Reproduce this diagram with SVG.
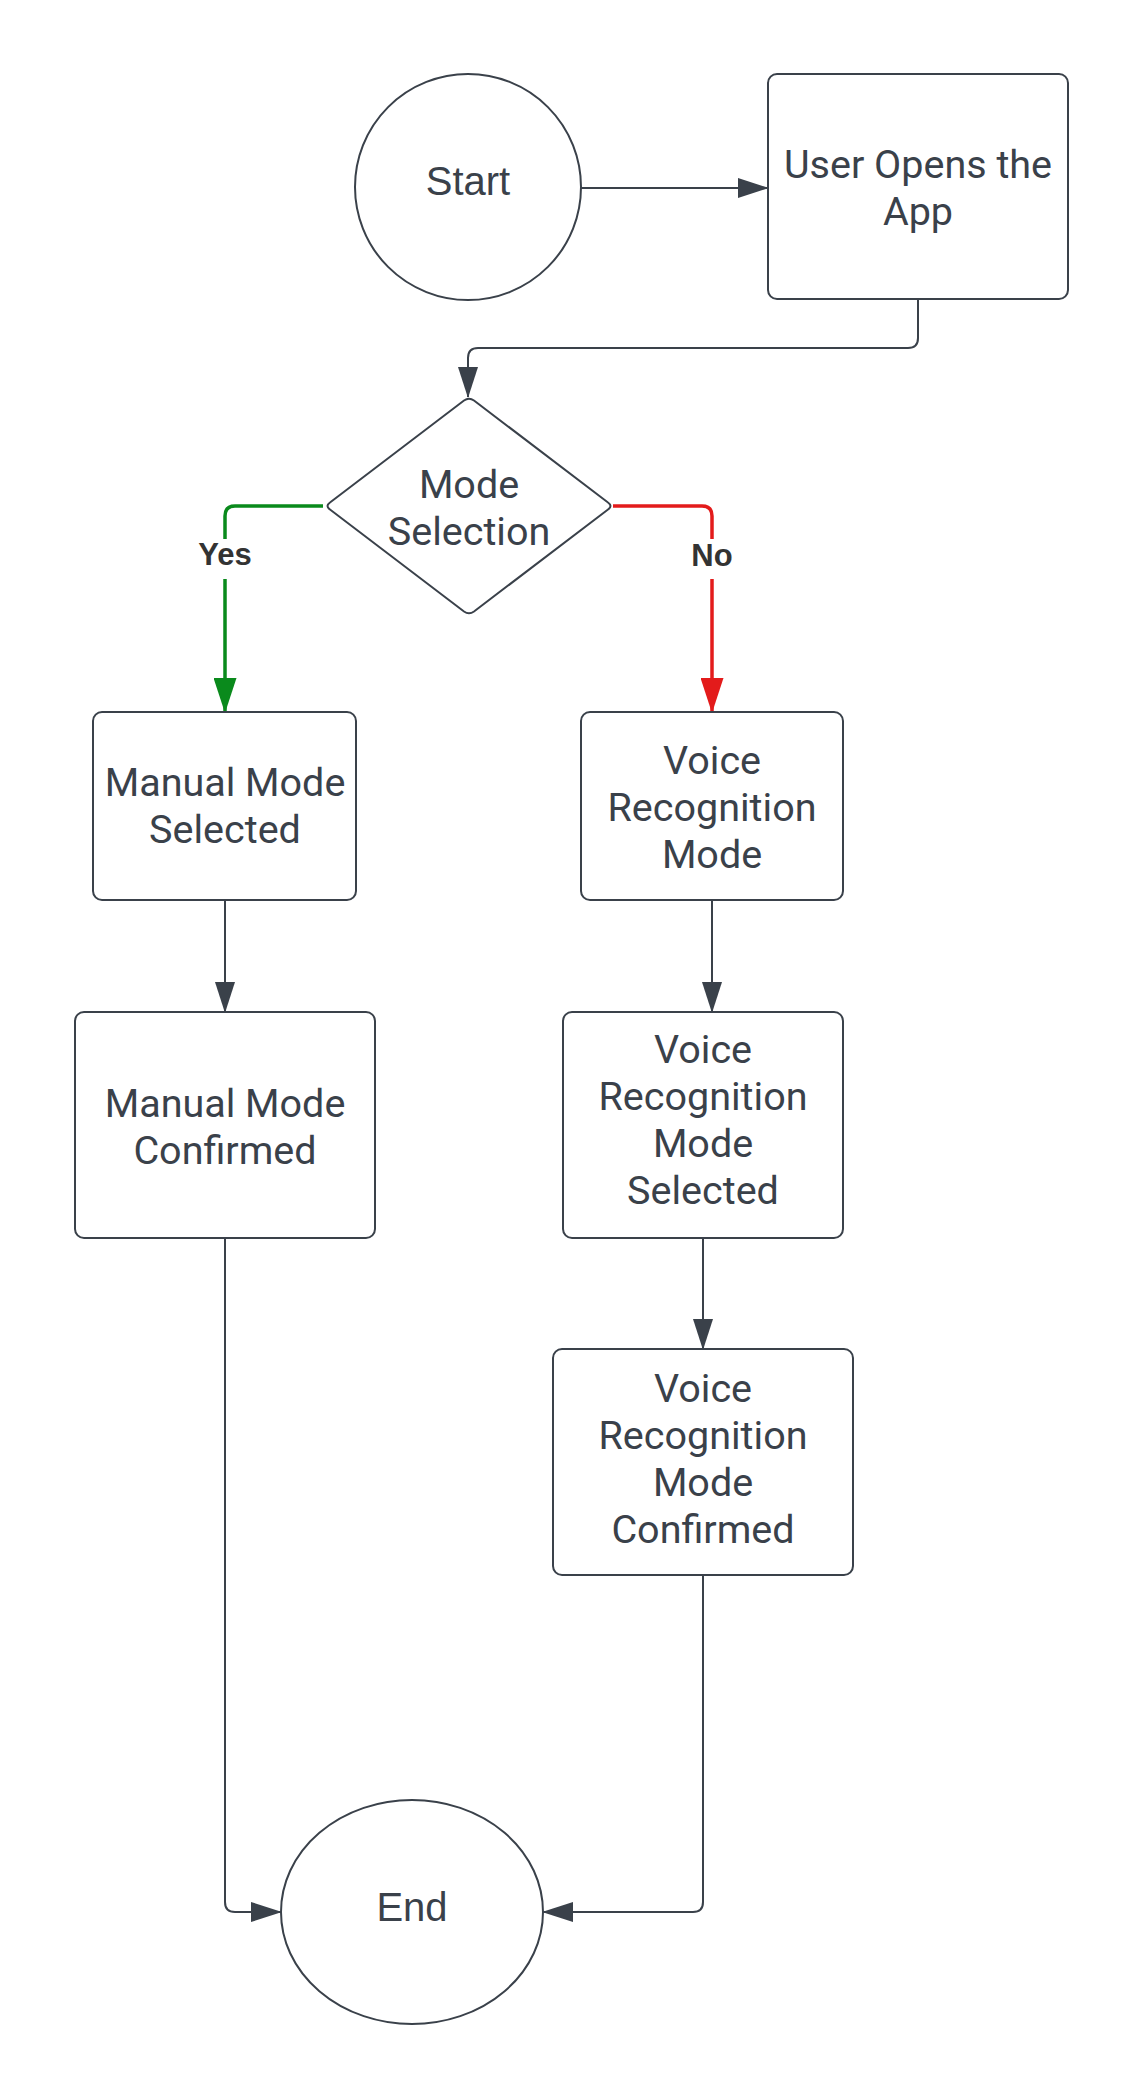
<svg xmlns="http://www.w3.org/2000/svg" width="1144" height="2100" viewBox="0 0 1144 2100">
<style>
.shape{fill:#ffffff;stroke:#3a414a;stroke-width:2}
.txt{font-family:Roboto,"Liberation Sans",sans-serif;font-size:39.5px;fill:#3a414a;text-anchor:middle}
.term{font-family:"Liberation Sans",Arial,sans-serif;font-size:40px;fill:#3a414a;text-anchor:middle}
.lbl{font-family:"Liberation Sans",Arial,sans-serif;font-size:31px;font-weight:bold;fill:#333333;text-anchor:middle}
.conn{fill:none;stroke:#3a414a;stroke-width:2}
.yes{fill:none;stroke:#0a8a1c;stroke-width:3.5}
.no{fill:none;stroke:#e31b1b;stroke-width:3.5}
</style>
<defs>
<marker id="arr" markerUnits="userSpaceOnUse" viewBox="0 0 31 20" refX="30" refY="10" markerWidth="31" markerHeight="20" orient="auto">
<path d="M0,0 L31,10 L0,20 Z" fill="#3a414a"/>
</marker>
<marker id="arrG" markerUnits="userSpaceOnUse" viewBox="0 0 35 23" refX="34" refY="11.5" markerWidth="35" markerHeight="23" orient="auto">
<path d="M0,0 L35,11.5 L0,23 Z" fill="#0a8a1c"/>
</marker>
<marker id="arrR" markerUnits="userSpaceOnUse" viewBox="0 0 35 23" refX="34" refY="11.5" markerWidth="35" markerHeight="23" orient="auto">
<path d="M0,0 L35,11.5 L0,23 Z" fill="#e31b1b"/>
</marker>
</defs>
<rect width="1144" height="2100" fill="#ffffff"/>

<g id="connectors">
<path class="conn" d="M580 188 H768" marker-end="url(#arr)"/>
<path class="conn" d="M918 299 V338 Q918 348 908 348 H478 Q468 348 468 358 V397" marker-end="url(#arr)"/>
<path class="yes" d="M323 506 H235 Q225 506 225 516 V712" marker-end="url(#arrG)"/>
<path class="no" d="M613 506 H702 Q712 506 712 516 V712" marker-end="url(#arrR)"/>
<rect x="190" y="539" width="70" height="40" fill="#ffffff"/>
<text class="lbl" x="225" y="565">Yes</text>
<rect x="682" y="539" width="60" height="40" fill="#ffffff"/>
<text class="lbl" x="712" y="566">No</text>
<path class="conn" d="M225 900 V1012" marker-end="url(#arr)"/>
<path class="conn" d="M712 900 V1012" marker-end="url(#arr)"/>
<path class="conn" d="M703 1238 V1349" marker-end="url(#arr)"/>
<path class="conn" d="M225 1238 V1902 Q225 1912 235 1912 H281" marker-end="url(#arr)"/>
<path class="conn" d="M703 1575 V1902 Q703 1912 693 1912 H543" marker-end="url(#arr)"/>
</g>

<g id="start">
<circle class="shape" cx="468" cy="187" r="113"/>
<text class="term" x="468" y="195">Start</text>
</g>

<g id="user-opens">
<rect class="shape" x="768" y="74" width="300" height="225" rx="9"/>
<text class="txt" x="918" y="178">User Opens the</text>
<text class="txt" x="918" y="225">App</text>
</g>

<g id="mode-selection">
<path class="shape" d="M464 400.5 Q469 397 474 400.5 L608 502.5 Q613 506 608 509.5 L474 611.5 Q469 615 464 611.5 L330 509.5 Q325 506 330 502.5 Z"/>
<text class="txt" x="469" y="498">Mode</text>
<text class="txt" x="469" y="545">Selection</text>
</g>

<g id="manual-selected">
<rect class="shape" x="93" y="712" width="263" height="188" rx="9"/>
<text class="txt" x="225" y="796">Manual Mode</text>
<text class="txt" x="225" y="843">Selected</text>
</g>

<g id="voice-mode">
<rect class="shape" x="581" y="712" width="262" height="188" rx="9"/>
<text class="txt" x="712" y="774">Voice</text>
<text class="txt" x="712" y="821">Recognition</text>
<text class="txt" x="712" y="868">Mode</text>
</g>

<g id="manual-confirmed">
<rect class="shape" x="75" y="1012" width="300" height="226" rx="9"/>
<text class="txt" x="225" y="1117">Manual Mode</text>
<text class="txt" x="225" y="1164">Confirmed</text>
</g>

<g id="voice-selected">
<rect class="shape" x="563" y="1012" width="280" height="226" rx="9"/>
<text class="txt" x="703" y="1063">Voice</text>
<text class="txt" x="703" y="1110">Recognition</text>
<text class="txt" x="703" y="1157">Mode</text>
<text class="txt" x="703" y="1204">Selected</text>
</g>

<g id="voice-confirmed">
<rect class="shape" x="553" y="1349" width="300" height="226" rx="9"/>
<text class="txt" x="703" y="1402">Voice</text>
<text class="txt" x="703" y="1449">Recognition</text>
<text class="txt" x="703" y="1496">Mode</text>
<text class="txt" x="703" y="1543">Confirmed</text>
</g>

<g id="end">
<ellipse class="shape" cx="412" cy="1912" rx="131" ry="112"/>
<text class="term" x="412" y="1921">End</text>
</g>
</svg>
